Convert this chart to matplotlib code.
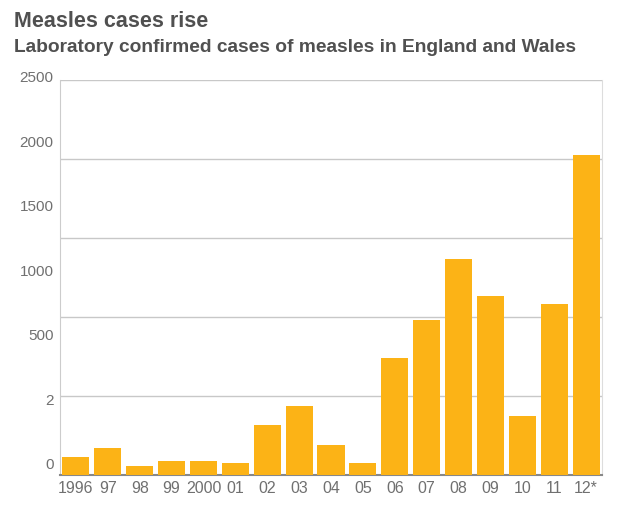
import matplotlib.pyplot as plt
import numpy as np

# datos
years = ["1996", "97", "98", "99", "2000", "01", "02", "03", "04", "05",
         "06", "07", "08", "09", "10", "11", "12*"]
cases = [112, 171, 57, 89, 89, 76, 316, 437, 190, 76,
         740, 981, 1367, 1133, 373, 1082, 2025]
ytick_labels = ["0", "2", "500", "1000", "1500", "2000", "2500"]

plt.rcParams['font.family'] = ['Liberation Sans', 'DejaVu Sans']

fig = plt.figure(figsize=(6.26, 5.16), dpi=100)
ax = fig.add_axes([0.0958, 0.0795, 0.866, 0.7655])

x = np.arange(len(years))
ax.bar(x, cases, width=0.85, color="#FCB316", zorder=3)

ax.set_xlim(-0.5, len(years) - 0.5)
ax.set_ylim(0, 2500)
ax.set_yticks([0, 500, 1000, 1500, 2000, 2500])
ax.set_yticklabels([])
ax.tick_params(axis="y", length=0)
ax.grid(axis="y", color="#c8c8c8", linewidth=1, zorder=0)

ax.set_xticks(x)
ax.set_xticklabels(years, fontsize=11.5, color="#707070")
ax.tick_params(axis="x", length=0, pad=4)

ax.spines["top"].set_visible(False)
ax.spines["left"].set_color("#cccccc")
ax.spines["right"].set_color("#dddddd")
ax.spines["bottom"].set_color("#888888")
ax.spines["bottom"].set_linewidth(1.5)

# las etiquetas del eje y no coinciden con las lineas en el original
for i, lab in enumerate(ytick_labels):
    ax.text(-0.012, 0.025 + i * 0.1633, lab, transform=ax.transAxes,
            ha="right", va="center", fontsize=11, color="#707070")

fig.text(0.022, 0.958, "Measles cases rise", fontsize=15.5, fontweight="bold",
         color="#505050", va="center")
fig.text(0.022, 0.907, "Laboratory confirmed cases of measles in England and Wales",
         fontsize=13.8, fontweight="bold", color="#505050", va="center")

fig.savefig("out.png", dpi=100)
